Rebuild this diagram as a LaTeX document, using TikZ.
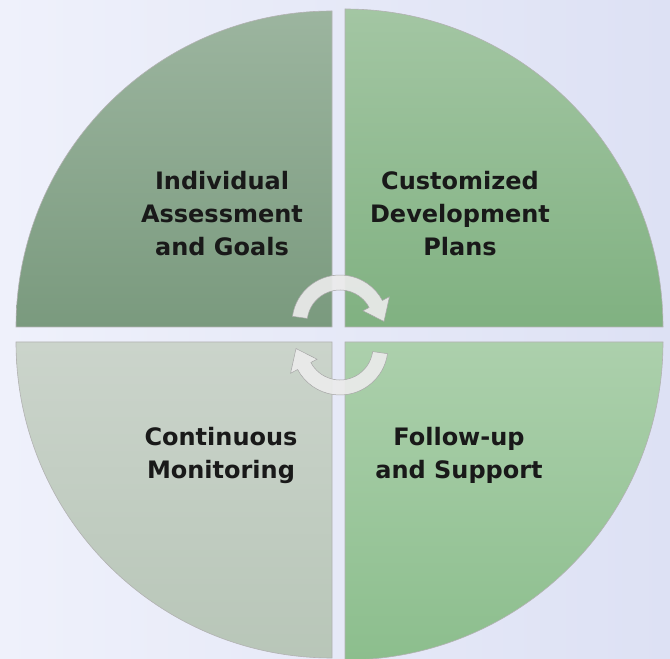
\documentclass[tikz,border=0pt]{standalone}
\usepackage{fontspec}
\setmainfont{DejaVu Sans}
\usetikzlibrary{calc}
\usetikzlibrary{positioning}

\definecolor{latarkiri}{HTML}{EFF1FB}
\definecolor{latarkanan}{HTML}{DDE1F4}
\definecolor{kiriatas1}{HTML}{9CB59F}
\definecolor{kiriatas2}{HTML}{7A9A7E}
\definecolor{kananatas1}{HTML}{A3C6A3}
\definecolor{kananatas2}{HTML}{80B181}
\definecolor{kiribawah1}{HTML}{CBD4CB}
\definecolor{kiribawah2}{HTML}{B8C6B8}
\definecolor{kananbawah1}{HTML}{ACD0AC}
\definecolor{kananbawah2}{HTML}{8CBE8D}

\begin{document}
\begin{tikzpicture}[x=1pt, y=1pt,
		teks/.style={align=center, font=\fontsize{24}{33}\selectfont\bfseries, text=black!90}]
		\newcommand\sektor[6]{
			% (x, y, start angle, r, top colour, bottom colour)
			\coordinate (p) at (#1, #2);
			\shade[top color=#5, bottom color=#6] (p) -- ++(#3:#4) arc (#3:#3+90:#4) -- cycle;
			\draw[black!30, line width=0.6pt] (p) -- ++(#3:#4) arc (#3:#3+90:#4) -- cycle;
		}
		\newcommand\panah[3]{
			% (x, y, rotate)
			\begin{scope}[shift={(#1, #2)}, rotate=#3]
				\filldraw[fill=white!92!black, draw=black!35, line width=0.5pt, fill opacity=0.92]
					(172:48) arc (172:28:48) -- (28:56) -- (2:44) -- (28:26) -- (28:33) arc (28:172:33) -- cycle;
			\end{scope}
		}
		
		\useasboundingbox (0, 0) rectangle (670, 659);
		\shade[left color=latarkiri, right color=latarkanan] (0, 0) rectangle (670, 659);
		
		\sektor{332}{332}{90}{316}{kiriatas1}{kiriatas2}
		\sektor{345}{332}{0}{318}{kananatas1}{kananatas2}
		\sektor{332}{317}{180}{316}{kiribawah1}{kiribawah2}
		\sektor{345}{317}{270}{318}{kananbawah1}{kananbawah2}
		
		\panah{340}{336}{0}
		\panah{340}{312}{180}
		
		\node[teks] (assess) at (222, 445) {Individual\\Assessment\\and Goals};
		\node[teks] (plan) at (460, 445) {Customized\\Development\\Plans};
		\node[teks] (monitor) at (221, 204) {Continuous\\Monitoring};
		\node[teks] (support) at (459, 204) {Follow-up\\and Support};
		
	\end{tikzpicture}
\end{document}
